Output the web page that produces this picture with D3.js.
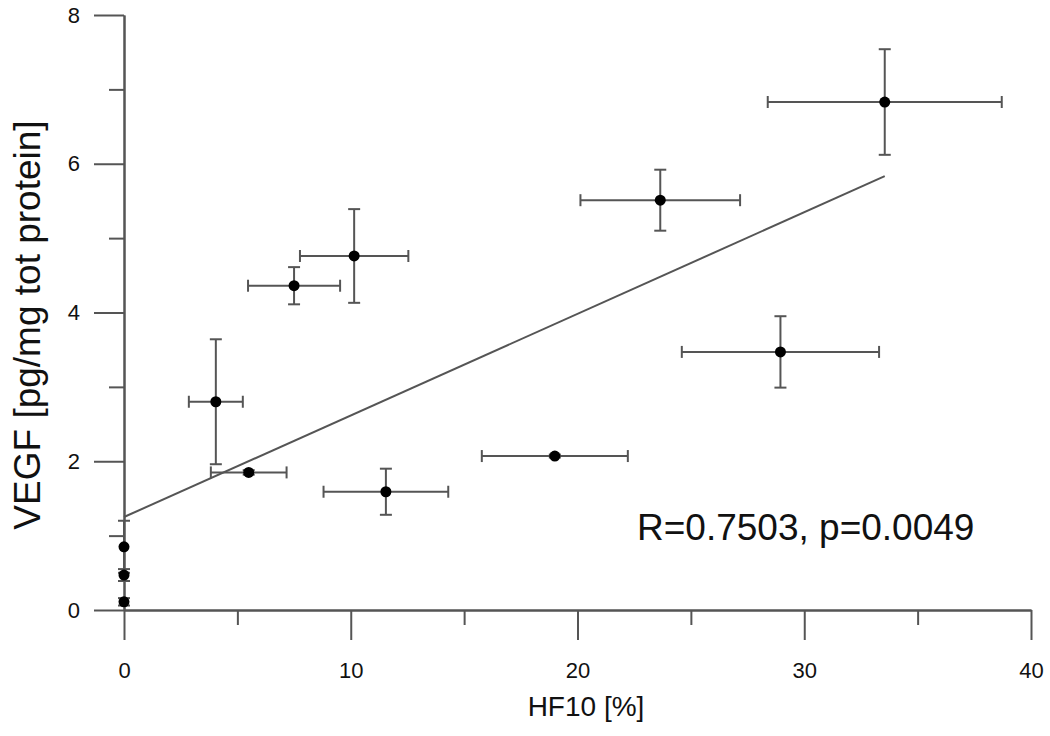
<!DOCTYPE html>
<html>
<head>
<meta charset="utf-8">
<script src="https://cdn.jsdelivr.net/npm/d3@7"></script>
<style>
  body { margin: 0; background: #fff; }
  text { font-family: "Liberation Sans", Arial, sans-serif; fill: #111; }
</style>
</head>
<body>
<div id="chart"></div>
<script>
// data: HF10 [%] vs VEGF, with +/- errors
var hf10    = [0,    0,    0,    4.05, 5.5,  7.5,  10.15, 11.55, 19.0, 23.65, 28.95, 33.55];
var hf10Err = [0,    0,    0,    1.19, 1.67, 2.03, 2.39,  2.75,  3.22, 3.52,  4.35,  5.16];
var vegf    = [0.11, 0.47, 0.85, 2.80, 1.85, 4.36, 4.76,  1.59,  2.07, 5.51,  3.47,  6.83];
var vegfErr = [0.05, 0.08, 0.35, 0.84, 0.03, 0.25, 0.63,  0.31,  0.02, 0.41,  0.48,  0.71];

var xTicks = [0, 10, 20, 30, 40];
var xMinor = [5, 15, 25, 35];
var yTicks = [0, 2, 4, 6, 8];
var yMinor = [1, 3, 5, 7];

// regression line
var fitIntercept = 1.25;
var fitSlope = 0.1366;
var fitRange = [0, 33.55];
var statsLabel = "R=0.7503, p=0.0049";

var svgWidth = 1050;
var svgHeight = 736;
var margin = { top: 15, right: 19, bottom: 126, left: 124 };
var width = svgWidth - margin.left - margin.right;
var height = svgHeight - margin.top - margin.bottom;

var svg = d3.select("#chart")
  .append("svg")
  .attr("width", svgWidth)
  .attr("height", svgHeight);

var chartGroup = svg.append("g")
  .attr("transform", `translate(${margin.left}, ${margin.top})`);

var xScale = d3.scaleLinear().domain([0, 40]).range([0, width]);
var yScale = d3.scaleLinear().domain([0, 8]).range([height, 0]);

var axisColor = "#555";

// minor ticks first
chartGroup.append("g")
  .attr("transform", `translate(0, ${height})`)
  .call(d3.axisBottom(xScale).tickValues(xMinor).tickSize(15).tickSizeOuter(0).tickFormat(""));
chartGroup.append("g")
  .call(d3.axisLeft(yScale).tickValues(yMinor).tickSize(15).tickSizeOuter(0).tickFormat(""));

// major ticks with labels
chartGroup.append("g")
  .attr("class", "xaxis")
  .attr("transform", `translate(0, ${height})`)
  .call(d3.axisBottom(xScale).tickValues(xTicks).tickSize(30).tickSizeOuter(0).tickPadding(22));
chartGroup.append("g")
  .attr("class", "yaxis")
  .call(d3.axisLeft(yScale).tickValues(yTicks).tickSize(30).tickSizeOuter(0).tickPadding(14));

chartGroup.selectAll(".domain, .tick line")
  .attr("stroke", axisColor)
  .attr("stroke-width", 2);
chartGroup.selectAll(".tick text")
  .attr("font-size", 22)
  .attr("font-family", "Liberation Sans, Arial, sans-serif")
  .attr("fill", "#111");

// regression line
chartGroup.append("line")
  .attr("x1", xScale(fitRange[0]))
  .attr("y1", yScale(fitIntercept + fitSlope * fitRange[0]))
  .attr("x2", xScale(fitRange[1]))
  .attr("y2", yScale(fitIntercept + fitSlope * fitRange[1]))
  .attr("stroke", "#555")
  .attr("stroke-width", 2);

var points = hf10.map(function(d, i) {
  return { x: d, xe: hf10Err[i], y: vegf[i], ye: vegfErr[i] };
});

var cap = 6;
var errGroup = chartGroup.append("g")
  .attr("stroke", "#555")
  .attr("stroke-width", 2);

points.forEach(function(p) {
  var cx = xScale(p.x), cy = yScale(p.y);
  if (p.xe > 0) {
    var xl = xScale(p.x - p.xe), xr = xScale(p.x + p.xe);
    errGroup.append("line").attr("x1", xl).attr("x2", xr).attr("y1", cy).attr("y2", cy);
    errGroup.append("line").attr("x1", xl).attr("x2", xl).attr("y1", cy - cap).attr("y2", cy + cap);
    errGroup.append("line").attr("x1", xr).attr("x2", xr).attr("y1", cy - cap).attr("y2", cy + cap);
  }
  if (p.ye > 0) {
    var yt = yScale(p.y + p.ye), yb = yScale(p.y - p.ye);
    errGroup.append("line").attr("x1", cx).attr("x2", cx).attr("y1", yt).attr("y2", yb);
    errGroup.append("line").attr("x1", cx - cap).attr("x2", cx + cap).attr("y1", yt).attr("y2", yt);
    errGroup.append("line").attr("x1", cx - cap).attr("x2", cx + cap).attr("y1", yb).attr("y2", yb);
  }
});

chartGroup.selectAll("circle")
  .data(points)
  .enter()
  .append("circle")
  .attr("cx", d => xScale(d.x))
  .attr("cy", d => yScale(d.y))
  .attr("r", 5.5)
  .attr("fill", "#000");

// stats text
chartGroup.append("text")
  .attr("x", 513)
  .attr("y", 525)
  .attr("font-size", 37)
  .text(statsLabel);

// axis labels
chartGroup.append("text")
  .attr("transform", "rotate(-90)")
  .attr("x", 0 - 310)
  .attr("y", 0 - margin.left + 40)
  .attr("text-anchor", "middle")
  .attr("font-size", 37)
  .text("VEGF [pg/mg tot protein]");

chartGroup.append("text")
  .attr("x", 462)
  .attr("y", 701)
  .attr("text-anchor", "middle")
  .attr("font-size", 28)
  .text("HF10 [%]");
</script>
</body>
</html>
